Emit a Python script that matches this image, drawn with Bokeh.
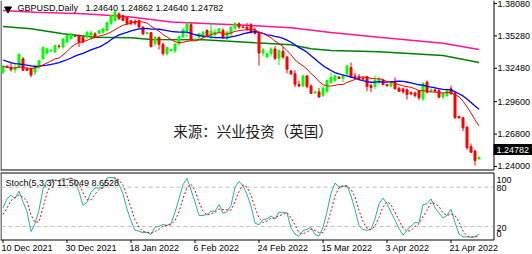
import numpy as np
from bokeh.plotting import figure
from bokeh.models import Range1d, ColumnDataSource
from bokeh.layouts import column
from bokeh.embed import file_html
from bokeh.resources import INLINE
from bokeh.core.properties import value

# ---------------- data ----------------
title_text = "GBPUSD,Daily\u00a0\u00a0 1.24640 1.24862 1.24640 1.24782"
stoch_title = "Stoch(5,3,3) 11.5049 8.6528"
watermark = "来源：兴业投资（英国）"
date_tick_bars = [0, 16, 32, 48, 64, 80, 96, 112]
date_tick_labels = ["10 Dec 2021", "30 Dec 2021", "18 Jan 2022", "6 Feb 2022",
                    "24 Feb 2022", "15 Mar 2022", "3 Apr 2022", "21 Apr 2022"]
price_ticks = [1.38080, 1.35280, 1.32480, 1.29600, 1.26800, 1.24000]
stoch_levels = [20, 80]
stoch_scale_labels = ["100", "80", "20", "0"]
last_price = 1.24782

opens = [1.3214, 1.3266, 1.3255, 1.3236, 1.3258, 1.3330, 1.3244, 1.3244, 1.3214, 1.3260,
         1.3330, 1.3380, 1.3398, 1.3390, 1.3440, 1.3432, 1.3476, 1.3505, 1.3530, 1.3530,
         1.3515, 1.3518, 1.3535, 1.3546, 1.3548, 1.3560, 1.3577, 1.3635, 1.3662, 1.3718,
         1.3703, 1.3686, 1.3658, 1.3655, 1.3660, 1.3603, 1.3549, 1.3556, 1.3460, 1.3515,
         1.3455, 1.3375, 1.3400, 1.3400, 1.3460, 1.3520, 1.3570, 1.3625, 1.3490, 1.3517,
         1.3532, 1.3575, 1.3532, 1.3538, 1.3560, 1.3575, 1.3518, 1.3546, 1.3595, 1.3633,
         1.3605, 1.3603, 1.3625, 1.3575, 1.3550, 1.3380, 1.3345, 1.3375, 1.3415, 1.3335,
         1.3395, 1.3345, 1.3225, 1.3200, 1.3110, 1.3095, 1.3182, 1.3095, 1.3034, 1.3045,
         1.3015, 1.3050, 1.3128, 1.3145, 1.3172, 1.3160, 1.3200, 1.3255, 1.3180, 1.3175,
         1.3165, 1.3175, 1.3100, 1.3090, 1.3128, 1.3143, 1.3108, 1.3093, 1.3128, 1.3075,
         1.3070, 1.3062, 1.3040, 1.3033, 1.3056, 1.2985, 1.3128, 1.3050, 1.3062, 1.3056,
         1.3000, 1.3013, 1.3071, 1.3030, 1.2832, 1.2820, 1.2739, 1.2572, 1.2532, 1.24640]
highs = [1.3276, 1.3272, 1.3298, 1.3283, 1.3375, 1.3344, 1.3250, 1.3255, 1.3280, 1.3322,
         1.3440, 1.3425, 1.3410, 1.3452, 1.3455, 1.3508, 1.3541, 1.3555, 1.3538, 1.3540,
         1.3530, 1.3570, 1.3576, 1.3560, 1.3580, 1.3600, 1.3650, 1.3710, 1.3749, 1.3730,
         1.3712, 1.3692, 1.3665, 1.3670, 1.3670, 1.3613, 1.3558, 1.3560, 1.3525, 1.3522,
         1.3470, 1.3436, 1.3412, 1.3465, 1.3530, 1.3600, 1.3646, 1.3640, 1.3506, 1.3555,
         1.3570, 1.3585, 1.3643, 1.3590, 1.3595, 1.3595, 1.3570, 1.3610, 1.3644, 1.3645,
         1.3610, 1.3640, 1.3640, 1.3600, 1.3565, 1.3425, 1.3380, 1.3430, 1.3440, 1.3410,
         1.3435, 1.3355, 1.3235, 1.3230, 1.3140, 1.3195, 1.3190, 1.3110, 1.3048, 1.3080,
         1.3095, 1.3150, 1.3212, 1.3195, 1.3180, 1.3200, 1.3280, 1.3298, 1.3210, 1.3200,
         1.3170, 1.3180, 1.3115, 1.3186, 1.3175, 1.3160, 1.3112, 1.3135, 1.3171, 1.3090,
         1.3080, 1.3075, 1.3045, 1.3048, 1.3062, 1.3130, 1.3143, 1.3075, 1.3065, 1.3070,
         1.3035, 1.3070, 1.3100, 1.3045, 1.2838, 1.2830, 1.2750, 1.2598, 1.2545, 1.24862]
lows = [1.3198, 1.3250, 1.3220, 1.3208, 1.3246, 1.3226, 1.3225, 1.3170, 1.3188, 1.3240,
        1.3320, 1.3365, 1.3392, 1.3380, 1.3420, 1.3420, 1.3465, 1.3495, 1.3520, 1.3432,
        1.3465, 1.3500, 1.3490, 1.3510, 1.3545, 1.3548, 1.3570, 1.3620, 1.3655, 1.3665,
        1.3655, 1.3620, 1.3620, 1.3620, 1.3595, 1.3534, 1.3540, 1.3428, 1.3440, 1.3410,
        1.3358, 1.3358, 1.3395, 1.3380, 1.3445, 1.3510, 1.3518, 1.3485, 1.3486, 1.3490,
        1.3505, 1.3520, 1.3500, 1.3520, 1.3555, 1.3500, 1.3474, 1.3530, 1.3580, 1.3590,
        1.3595, 1.3570, 1.3550, 1.3540, 1.3272, 1.3350, 1.3340, 1.3350, 1.3320, 1.3275,
        1.3330, 1.3205, 1.3190, 1.3085, 1.3085, 1.3085, 1.3075, 1.3025, 1.3030, 1.2995,
        1.3000, 1.3035, 1.3115, 1.3130, 1.3160, 1.3130, 1.3180, 1.3165, 1.3150, 1.3145,
        1.3150, 1.3050, 1.3042, 1.3070, 1.3110, 1.3100, 1.3095, 1.3085, 1.3065, 1.3045,
        1.3030, 1.2978, 1.3015, 1.2995, 1.2972, 1.2964, 1.3030, 1.3040, 1.3045, 1.2990,
        1.2979, 1.3000, 1.3020, 1.2815, 1.2815, 1.2705, 1.2544, 1.2518, 1.2408, 1.24640]
closes = [1.3266, 1.3255, 1.3236, 1.3255, 1.3370, 1.3232, 1.3230, 1.3190, 1.3268, 1.3315,
          1.3428, 1.3415, 1.3404, 1.3445, 1.3436, 1.3502, 1.3530, 1.3545, 1.3525, 1.3476,
          1.3476, 1.3558, 1.3555, 1.3518, 1.3574, 1.3588, 1.3645, 1.3702, 1.3732, 1.3677,
          1.3662, 1.3636, 1.3638, 1.3638, 1.3605, 1.3546, 1.3557, 1.3435, 1.3515, 1.3455,
          1.3375, 1.3428, 1.3410, 1.3458, 1.3520, 1.3580, 1.3632, 1.3492, 1.3502, 1.3546,
          1.3560, 1.3532, 1.3570, 1.3560, 1.3589, 1.3518, 1.3560, 1.3603, 1.3638, 1.3605,
          1.3600, 1.3589, 1.3560, 1.3550, 1.3380, 1.3410, 1.3375, 1.3415, 1.3335, 1.3400,
          1.3345, 1.3240, 1.3200, 1.3110, 1.3095, 1.3182, 1.3090, 1.3032, 1.3045, 1.3000,
          1.3075, 1.3143, 1.3168, 1.3182, 1.3160, 1.3180, 1.3268, 1.3172, 1.3165, 1.3160,
          1.3155, 1.3090, 1.3082, 1.3143, 1.3158, 1.3108, 1.3096, 1.3119, 1.3071, 1.3050,
          1.3045, 1.3022, 1.3028, 1.3013, 1.2993, 1.3114, 1.3041, 1.3062, 1.3050, 1.2999,
          1.3030, 1.3056, 1.3028, 1.2820, 1.2820, 1.2734, 1.2561, 1.2523, 1.2451, 1.24782]

# bars before the visible window (warm-up for the 10/20 MAs and the stochastic)
prior_high = [1.3515, 1.3510, 1.3445, 1.3460, 1.3425, 1.3390, 1.3350, 1.3375, 1.3340, 1.3370,
              1.3370, 1.3370, 1.3320, 1.3315, 1.3270, 1.3300, 1.3290, 1.3250, 1.3262]
prior_low = [1.3440, 1.3430, 1.3430, 1.3385, 1.3360, 1.3310, 1.3300, 1.3280, 1.3320, 1.3300,
             1.3195, 1.3260, 1.3250, 1.3230, 1.3255, 1.3245, 1.3210, 1.3160, 1.3190]
prior_close = [1.3500, 1.3440, 1.3438, 1.3395, 1.3365, 1.3335, 1.3325, 1.3335, 1.3330, 1.3300,
               1.3300, 1.3280, 1.3310, 1.3265, 1.3262, 1.3285, 1.3240, 1.3210, 1.3215]

# slow moving averages (green and pink lines)
green_ma_bars = [0, 7, 15, 23, 32, 37, 50, 63, 72, 77, 82, 94, 110, 119]
green_ma_vals = [1.3609, 1.3589, 1.3546, 1.3517, 1.3512, 1.3497, 1.3494, 1.3468, 1.3451,
                 1.3417, 1.3402, 1.3391, 1.3359, 1.3298]
pink_ma_bars = [0, 8, 20, 27, 32, 42, 52, 62, 72, 82, 94, 110, 119]
pink_ma_vals = [1.3748, 1.3733, 1.3719, 1.3704, 1.3692, 1.3648, 1.3633, 1.3618, 1.3598,
                1.3557, 1.3517, 1.3465, 1.3411]

# ---------------- indicators ----------------
n = len(closes)
npr = len(prior_close)
all_h = np.array(prior_high + highs)
all_l = np.array(prior_low + lows)
all_c = np.array(prior_close + closes)


def sma(a, k):
    out = np.full(len(a), np.nan)
    cs = np.cumsum(np.insert(a, 0, 0.0))
    out[k - 1:] = (cs[k:] - cs[:-k]) / k
    return out


ma_fast = sma(all_c, 10)[npr:]
ma_slow = sma(all_c, 20)[npr:]


def stochastic(h, l, c, kp=5, slow=3, dp=3):
    m = len(c)
    hh = np.array([h[max(0, i - kp + 1):i + 1].max() for i in range(m)])
    ll = np.array([l[max(0, i - kp + 1):i + 1].min() for i in range(m)])
    k = np.full(m, np.nan)
    for i in range(kp + slow - 2, m):
        num = (c[i - slow + 1:i + 1] - ll[i - slow + 1:i + 1]).sum()
        den = (hh[i - slow + 1:i + 1] - ll[i - slow + 1:i + 1]).sum()
        k[i] = 100.0 * num / den if den > 0 else 100.0
    d = sma(np.nan_to_num(k), dp)
    return k, d


stoch_k, stoch_d = stochastic(all_h, all_l, all_c)
stoch_k = stoch_k[npr:]
stoch_d = stoch_d[npr:]

# ---------------- geometry (pixels -> data helpers) ----------------
W = 532
H_MAIN = 171
H_STOCH = 83
PANEL_R = 493.5          # right border of both panels (px)
BAR_PX = 4.0
X0 = -0.625
PRICE_TOP = 1.383392
PRICE_PER_PX = 0.000864
S_PX_PER_UNIT = 0.655
S_TOP = 100 + 2.6 / S_PX_PER_UNIT
FONT = "Liberation Sans"
FS = value("9px")


def px_x(px):
    return X0 + px / BAR_PX


def py_price(py):
    return PRICE_TOP - py * PRICE_PER_PX


def py_stoch(py):
    return S_TOP - py / S_PX_PER_UNIT


BULL = "#00FF00"
BEAR = "#FF0000"

idx = np.arange(n)
o = np.array(opens)
c = np.array(closes)
src = ColumnDataSource(dict(
    x=idx, high=np.array(highs), low=np.array(lows),
    top=np.maximum(o, c), bottom=np.minimum(o, c),
    color=[BULL if cc >= oo else BEAR for oo, cc in zip(opens, closes)],
))

xr = Range1d(X0, X0 + W / BAR_PX)


def base_fig(h, yr):
    f = figure(width=W, height=h, frame_width=W, frame_height=h, x_range=xr, y_range=yr,
               output_backend="svg", toolbar_location=None,
               x_axis_location=None, y_axis_location=None, min_border=0,
               background_fill_color="white", border_fill_color="white",
               outline_line_color=None)
    f.grid.visible = False
    return f


# ---------------- main panel ----------------
p = base_fig(H_MAIN, Range1d(py_price(H_MAIN), PRICE_TOP))

# panel frame (left, right, bottom) and price scale ticks
p.segment(x0=[px_x(0.5), px_x(PANEL_R), px_x(0)],
          y0=[py_price(0), py_price(0), py_price(169.5)],
          x1=[px_x(0.5), px_x(PANEL_R), px_x(PANEL_R)],
          y1=[py_price(169.5), py_price(169.5), py_price(169.5)],
          line_color="black", line_width=1)
p.segment(x0=[px_x(PANEL_R)] * len(price_ticks), y0=price_ticks,
          x1=[px_x(PANEL_R + 3)] * len(price_ticks), y1=price_ticks,
          line_color="black", line_width=1)
p.text(x=[px_x(497)] * len(price_ticks), y=price_ticks,
       text=["%.5f" % t for t in price_ticks], text_font=value(FONT), text_font_size=FS,
       text_color="black", text_baseline="middle", text_align="left")

# slow MAs
p.line(pink_ma_bars, pink_ma_vals, line_color="#FF1493", line_width=1.5)
p.line(green_ma_bars, green_ma_vals, line_color="#008000", line_width=1.5)
# candles
p.segment(x0="x", y0="low", x1="x", y1="high", line_color="color", line_width=1, source=src)
p.vbar(x="x", width=0.5, top="top", bottom="bottom", fill_color="color",
       line_color="color", line_width=1, source=src)
# fast MAs
p.line(idx, ma_slow, line_color="#0000FF", line_width=1.3)
p.line(idx, ma_fast, line_color="#FF0000", line_width=1)

# current price box on the scale
p.quad(left=[px_x(PANEL_R - 0.5)], right=[px_x(W)], top=[py_price(143.5)],
       bottom=[py_price(154.5)], fill_color="black", line_color=None)
p.text(x=[px_x(496)], y=[py_price(149)], text=["%.5f" % last_price],
       text_font=value(FONT), text_font_size=FS, text_color="white",
       text_baseline="middle", text_align="left")

# header and watermark
p.scatter([px_x(7.5)], [py_price(8.5)], marker="inverted_triangle", size=7,
          fill_color="black", line_color="black")
p.text(x=[px_x(17)], y=[py_price(7.5)], text=[title_text], text_font=value(FONT),
       text_font_size=FS, text_color="black", text_baseline="middle", text_align="left")
p.text(x=[px_x(252.5)], y=[py_price(129.5)], text=[watermark],
       text_font=value("Noto Sans CJK SC"), text_font_size=value("14.5px"),
       text_color="#1a1a1a", text_align="center", text_baseline="middle")

# ---------------- stochastic panel ----------------
s = base_fig(H_STOCH, Range1d(py_stoch(H_STOCH), S_TOP))

S_T, S_B = 1.5, 68.5
s.segment(x0=[px_x(0.5), px_x(PANEL_R), px_x(0), px_x(0)],
          y0=[py_stoch(S_T), py_stoch(S_T), py_stoch(S_T), py_stoch(S_B)],
          x1=[px_x(0.5), px_x(PANEL_R), px_x(PANEL_R), px_x(PANEL_R)],
          y1=[py_stoch(S_B), py_stoch(S_B), py_stoch(S_T), py_stoch(S_B)],
          line_color="black", line_width=1)
s.segment(x0=[px_x(1)] * 2, y0=stoch_levels, x1=[px_x(PANEL_R - 1)] * 2, y1=stoch_levels,
          line_color="#C0C0C0", line_width=1, line_dash="4 3")
# right scale labels (positions as drawn by the terminal)
s.text(x=[px_x(496)] * 4, y=[py_stoch(8), py_stoch(16), py_stoch(56), py_stoch(62)],
       text=stoch_scale_labels, text_font=value(FONT), text_font_size=FS,
       text_color="black", text_baseline="middle", text_align="left")
# date ticks and labels
s.segment(x0=date_tick_bars, y0=[py_stoch(S_B)] * len(date_tick_bars),
          x1=date_tick_bars, y1=[py_stoch(S_B + 3)] * len(date_tick_bars),
          line_color="black", line_width=1)
s.text(x=date_tick_bars, y=[py_stoch(76.5)] * len(date_tick_bars), text=date_tick_labels,
       x_offset=-1.5, text_font=value(FONT), text_font_size=FS, text_color="black",
       text_baseline="middle", text_align="left")

s.line(idx, stoch_k, line_color="#20B2AA", line_width=1)
s.line(idx, stoch_d, line_color="#FF0000", line_width=1, line_dash="2 2")
s.text(x=[px_x(5)], y=[py_stoch(11)], text=[stoch_title], text_font=value(FONT),
       text_font_size=FS, text_color="black", text_baseline="middle", text_align="left")

layout = column(p, s, spacing=0)
open("out.html", "w").write(file_html(layout, INLINE))
